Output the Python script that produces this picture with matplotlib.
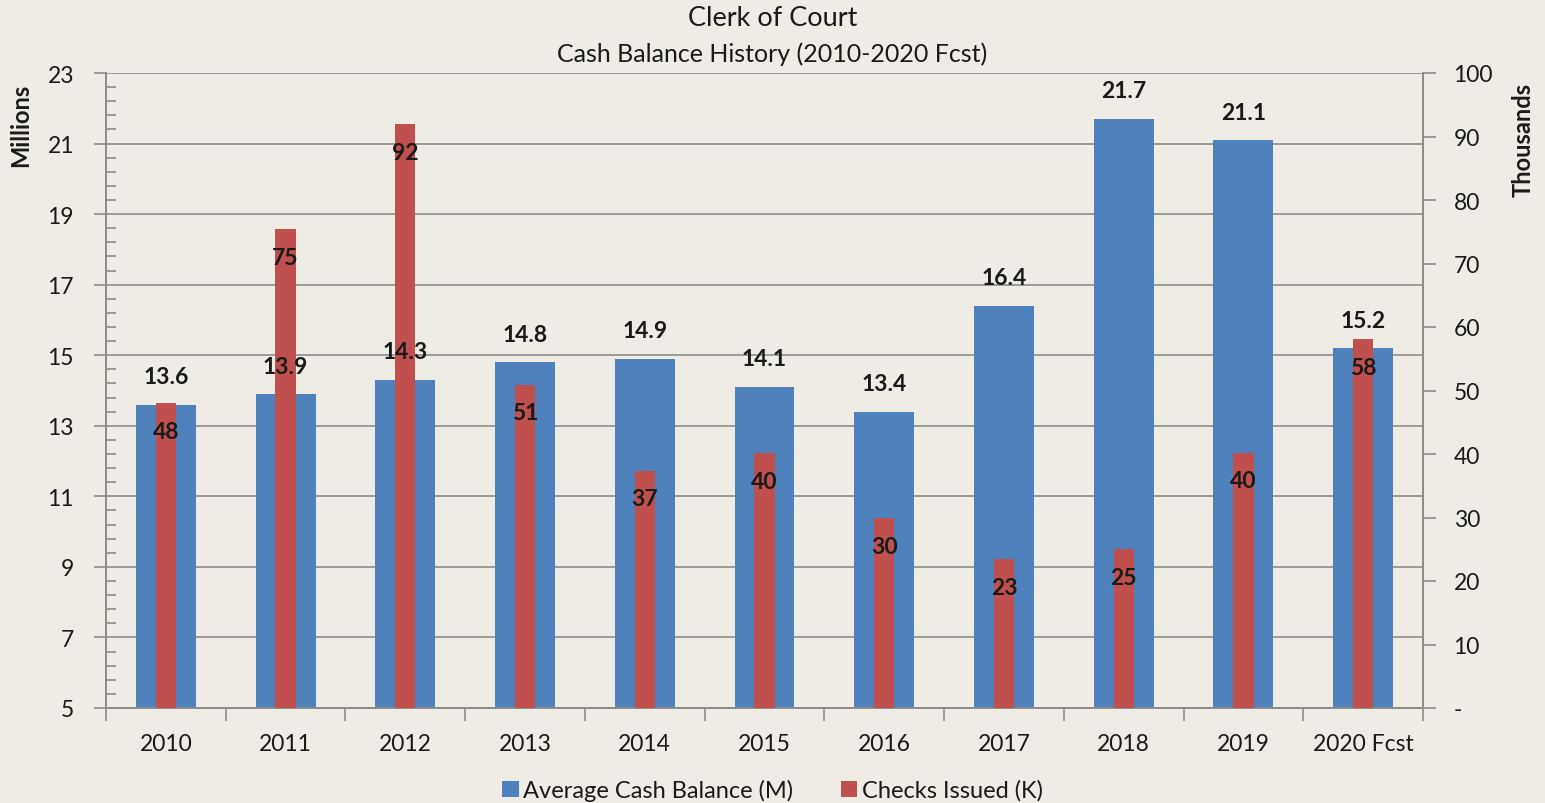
import matplotlib
matplotlib.use("Agg")
import matplotlib.pyplot as plt
import numpy as np
from matplotlib.ticker import FixedLocator

# data
years = ["2010", "2011", "2012", "2013", "2014", "2015", "2016", "2017", "2018", "2019", "2020 Fcst"]
cash_balance = [13.6, 13.9, 14.3, 14.8, 14.9, 14.1, 13.4, 16.4, 21.7, 21.1, 15.2]
checks_issued = [48, 75.4, 91.9, 50.9, 37.4, 40.1, 29.9, 23.4, 25.0, 40.2, 58.1]

bg = "#EFECE6"
blue = "#4F81BD"
red = "#C0504D"
grid_col = "#8C8C8C"
txt = "#1A1A1A"

plt.rcParams["font.family"] = ["Lato", "DejaVu Sans"]

fig = plt.figure(figsize=(15.45, 8.04), dpi=100, facecolor=bg)
ax = fig.add_axes([106 / 1545, 1 - 709 / 804, (1423 - 106) / 1545, (709 - 74) / 804])
ax.set_facecolor(bg)
ax2 = ax.twinx()

x = np.arange(len(years))

ax.bar(x, cash_balance, width=0.5, color=blue, zorder=2, label="Average Cash Balance (M)")
ax2.bar(x, checks_issued, width=0.17, color=red, zorder=3, label="Checks Issued (K)")

ax.set_ylim(5, 23)
ax.set_xlim(-0.5, len(years) - 0.5)
ax2.set_ylim(0, 100)

# left axis
ax.yaxis.set_major_locator(FixedLocator(np.arange(5, 23.1, 2)))
ax.yaxis.set_minor_locator(FixedLocator(np.arange(5, 23.01, 0.4)))
ax.grid(axis="y", which="major", color=grid_col, linewidth=1.2, zorder=0)
ax.set_axisbelow(True)
ax.tick_params(axis="y", which="major", direction="out", length=9, width=1.2, color=grid_col,
               labelsize=16.5, labelcolor=txt, pad=14)
ax.tick_params(axis="y", which="minor", direction="in", length=7, width=1.2, color=grid_col)

# x axis: ticks at category boundaries
ax.set_xticks(x)
ax.set_xticklabels(years)
ax.xaxis.set_minor_locator(FixedLocator(np.arange(-0.5, len(years), 1)))
ax.tick_params(axis="x", which="major", length=0, labelsize=16.5, labelcolor=txt, pad=18)
ax.tick_params(axis="x", which="minor", direction="out", length=9, width=1.2, color=grid_col)

for a in (ax, ax2):
    a.spines["top"].set_visible(False)
    for s in ("left", "right", "bottom"):
        a.spines[s].set_color(grid_col)
        a.spines[s].set_linewidth(1.4)

# right axis
ax2.set_yticks(np.arange(0, 101, 10))
ax2.set_yticklabels(["-"] + [str(v) for v in range(10, 101, 10)])
ax2.tick_params(axis="y", direction="out", length=9, width=1.2, color=grid_col,
                labelsize=16.5, labelcolor=txt, pad=13)

# data labels (all drawn on ax2 so they sit above both bar sets)
for xi, v in zip(x, cash_balance):
    ax2.annotate(f"{v:.1f}", (xi, v), xycoords=ax.transData, xytext=(0, 28), textcoords="offset pixels",
                 ha="center", va="center", fontsize=16.5, fontweight="bold", color=txt, zorder=5)
for xi, v in zip(x, checks_issued):
    ax2.annotate(f"{v:.0f}", (xi, v), xytext=(0, -28), textcoords="offset pixels",
                 ha="center", va="center", fontsize=16.5, fontweight="bold", color=txt, zorder=5)

fig.text(21 / 1545, 1 - 125 / 804, "Millions", rotation=90, ha="center", va="center",
         fontsize=17, fontweight="bold", color=txt)
fig.text(1523 / 1545, 1 - 140 / 804, "Thousands", rotation=90, ha="center", va="center",
         fontsize=17, fontweight="bold", color=txt)

fig.text(0.5, 1 - 18 / 804, "Clerk of Court", ha="center", va="center", fontsize=19.5, color=txt)
fig.text(0.5, 1 - 54 / 804, "Cash Balance History (2010-2020 Fcst)", ha="center", va="center",
         fontsize=18, color=txt)

h1, l1 = ax.get_legend_handles_labels()
h2, l2 = ax2.get_legend_handles_labels()
fig.legend(h1 + h2, l1 + l2, loc="center", bbox_to_anchor=(0.5, 1 - 791 / 804), ncol=2,
           frameon=False, fontsize=17, handlelength=0.7, handleheight=0.7, handletextpad=0.2,
           columnspacing=2.0, labelcolor=txt)

fig.savefig("out.png", dpi=100, facecolor=bg)
